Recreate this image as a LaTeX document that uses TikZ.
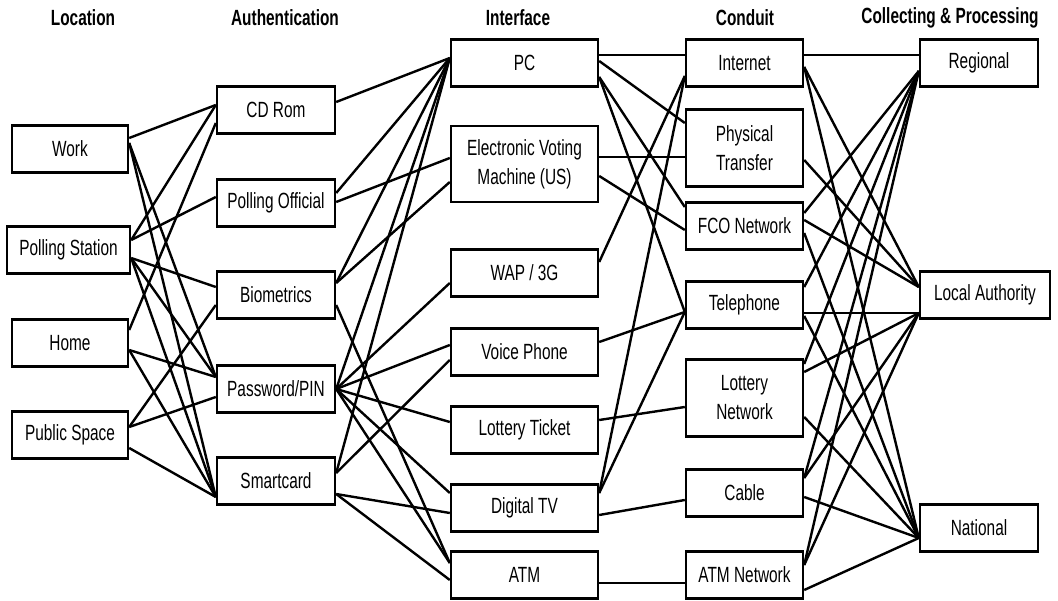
\documentclass[tikz,border=0pt]{standalone}
\usepackage{fontspec}
\setmainfont[FakeStretch=0.7]{Liberation Sans}
\usetikzlibrary{positioning}
\tikzset{
    box/.style={rectangle, draw=black, line width=2.4pt, fill=white, align=center,
        font=\fontsize{22}{29}\selectfont, inner sep=0pt, minimum height=47pt},
    locbox/.style={box, minimum width=116pt},
    authbox/.style={box, minimum width=118pt},
    facebox/.style={box, minimum width=147pt},
    pipebox/.style={box, minimum width=117pt},
    endbox/.style={box, minimum width=118pt},
    head/.style={font=\fontsize{22}{25}\selectfont\bfseries},
    link/.style={line width=2.4pt, black},
}

\begin{document}
\begin{tikzpicture}[x=1pt, y=-1pt]
    \useasboundingbox (0,0) rectangle (1058,601);

    % Intestazioni delle colonne
    \node[head] (h_loc)  at (83,18)  {Location};
    \node[head] (h_auth) at (285,18) {Authentication};
    \node[head] (h_face) at (518,18) {Interface};
    \node[head] (h_pipe) at (745,18) {Conduit};
    \node[head] (h_end)  at (950,18) {Collecting \& Processing};

    % 1. Location
    \node[locbox] (work)    at (70,149) {Work};
    \node[locbox, minimum width=123pt] (station) at (68.5,250) {Polling Station};
    \node[locbox] (home)    at (70,343) {Home};
    \node[locbox] (public)  at (70,435) {Public Space};

    % 2. Authentication
    \node[authbox] (cdrom)    at (276,110) {CD Rom};
    \node[authbox] (official) at (276,203) {Polling Official};
    \node[authbox] (bio)      at (276,295) {Biometrics};
    \node[authbox] (pin)      at (276,389) {Password/PIN};
    \node[authbox] (smart)    at (276,481) {Smartcard};

    % 3. Interface
    \node[facebox] (pc)     at (524.5,63)  {PC};
    \node[facebox, minimum height=76pt] (evm) at (524.5,164) {Electronic Voting\\Machine (US)};
    \node[facebox] (wap)    at (524.5,273) {WAP / 3G};
    \node[facebox] (voice)  at (524.5,352) {Voice Phone};
    \node[facebox] (ticket) at (524.5,430) {Lottery Ticket};
    \node[facebox] (dtv)    at (524.5,508) {Digital TV};
    \node[facebox] (atm)    at (524.5,575) {ATM};

    % 4. Conduit
    \node[pipebox] (internet) at (744.5,63)  {Internet};
    \node[pipebox, minimum height=77pt] (transfer) at (744.5,148) {Physical\\Transfer};
    \node[pipebox] (fco)      at (744.5,226) {FCO Network};
    \node[pipebox] (phone)    at (744.5,305) {Telephone};
    \node[pipebox, minimum height=77pt] (lotnet) at (744.5,398) {Lottery\\Network};
    \node[pipebox] (cable)    at (744.5,493) {Cable};
    \node[pipebox] (atmnet)   at (744.5,575) {ATM Network};

    % 5. Collecting & Processing
    \node[endbox] (regional) at (979,63)  {Regional};
    \node[endbox, minimum width=130pt] (local) at (985,295) {Local Authority};
    \node[endbox] (national) at (979,528) {National};

    % --- Collegamenti Location -> Authentication ---
    \draw[link] ([yshift=11pt]work.east) -- ([yshift=5pt]cdrom.west);
    \draw[link] ([yshift=6pt]work.east) -- ([yshift=12pt]pin.west);
    \draw[link] ([yshift=6pt]work.east) -- ([yshift=-16pt]smart.west);
    \draw[link] ([yshift=10pt]station.east) -- ([yshift=5pt]cdrom.west);
    \draw[link] ([yshift=10pt]station.east) -- ([yshift=6pt]official.west);
    \draw[link] ([yshift=-8pt]station.east) -- ([yshift=8pt]bio.west);
    \draw[link] ([yshift=-8pt]station.east) -- ([yshift=12pt]pin.west);
    \draw[link] ([yshift=-8pt]station.east) -- ([yshift=-16pt]smart.west);
    \draw[link] ([yshift=13pt]home.east) -- ([yshift=-13pt]cdrom.west);
    \draw[link] ([yshift=-7pt]home.east) -- ([yshift=12pt]pin.west);
    \draw[link] ([yshift=-7pt]home.east) -- ([yshift=-16pt]smart.west);
    \draw[link] ([yshift=8pt]public.east) -- ([yshift=-10pt]bio.west);
    \draw[link] ([yshift=8pt]public.east) -- ([yshift=-8pt]pin.west);
    \draw[link] ([yshift=-13pt]public.east) -- ([yshift=-16pt]smart.west);

    % --- Collegamenti Authentication -> Interface ---
    \draw[link] ([yshift=8pt]cdrom.east) -- ([yshift=5pt]pc.west);
    \draw[link] ([yshift=10pt]official.east) -- ([yshift=5pt]pc.west);
    \draw[link] ([yshift=1pt]official.east) -- ([yshift=6pt]evm.west);
    \draw[link] ([yshift=12pt]bio.east) -- ([yshift=5pt]pc.west);
    \draw[link] ([yshift=12pt]bio.east) -- ([yshift=-18pt]evm.west);
    \draw[link] ([yshift=-10pt]bio.east) -- ([yshift=12pt]atm.west);
    \draw[link] (pin.east) -- ([yshift=5pt]pc.west);
    \draw[link] (pin.east) -- ([yshift=-10pt]wap.west);
    \draw[link] (pin.east) -- ([yshift=7pt]voice.west);
    \draw[link] (pin.east) -- ([yshift=8pt]ticket.west);
    \draw[link] (pin.east) -- ([yshift=15pt]dtv.west);
    \draw[link] (pin.east) -- ([yshift=12pt]atm.west);
    \draw[link] ([yshift=8pt]smart.east) -- ([yshift=5pt]pc.west);
    \draw[link] ([yshift=8pt]smart.east) -- ([yshift=-8pt]voice.west);
    \draw[link] ([yshift=-13pt]smart.east) -- ([yshift=-5pt]dtv.west);
    \draw[link] ([yshift=-13pt]smart.east) -- ([yshift=-5pt]atm.west);

    % --- Collegamenti Interface -> Conduit ---
    \draw[link] ([yshift=8pt]pc.east) -- ([yshift=8pt]internet.west);
    \draw[link] ([yshift=2pt]pc.east) -- ([yshift=25pt]transfer.west);
    \draw[link] ([yshift=-14pt]pc.east) -- ([yshift=19pt]fco.west);
    \draw[link] ([yshift=-14pt]pc.east) -- ([yshift=-7pt]phone.west);
    \draw[link] ([yshift=7pt]evm.east) -- ([yshift=-9pt]transfer.west);
    \draw[link] ([yshift=-12pt]evm.east) -- ([yshift=-4pt]fco.west);
    \draw[link] ([yshift=11pt]wap.east) -- ([yshift=-13pt]internet.west);
    \draw[link] ([yshift=10pt]voice.east) -- ([yshift=-7pt]phone.west);
    \draw[link] ([yshift=10pt]ticket.east) -- ([yshift=-9pt]lotnet.west);
    \draw[link] ([yshift=15pt]dtv.east) -- ([yshift=-13pt]internet.west);
    \draw[link] ([yshift=15pt]dtv.east) -- ([yshift=-7pt]phone.west);
    \draw[link] ([yshift=-7pt]dtv.east) -- ([yshift=-7pt]cable.west);
    \draw[link] ([yshift=-8pt]atm.east) -- ([yshift=-8pt]atmnet.west);

    % --- Collegamenti Conduit -> Collecting & Processing ---
    \draw[link] ([yshift=8pt]internet.east) -- ([yshift=8pt]regional.west);
    \draw[link] ([yshift=-4pt]internet.east) -- ([yshift=8pt]local.west);
    \draw[link] ([yshift=-4pt]internet.east) -- ([yshift=-10pt]national.west);
    \draw[link] ([yshift=-12pt]transfer.east) -- ([yshift=8pt]local.west);
    \draw[link] ([yshift=13pt]fco.east) -- ([yshift=-8pt]regional.west);
    \draw[link] ([yshift=6pt]fco.east) -- ([yshift=8pt]local.west);
    \draw[link] ([yshift=-7pt]fco.east) -- ([yshift=-10pt]national.west);
    \draw[link] ([yshift=18pt]phone.east) -- ([yshift=-8pt]regional.west);
    \draw[link] ([yshift=-8pt]phone.east) -- ([yshift=-18pt]local.west);
    \draw[link] ([yshift=-11pt]phone.east) -- ([yshift=-10pt]national.west);
    \draw[link] ([yshift=34pt]lotnet.east) -- ([yshift=-8pt]regional.west);
    \draw[link] ([yshift=26pt]lotnet.east) -- ([yshift=-18pt]local.west);
    \draw[link] ([yshift=-19pt]lotnet.east) -- ([yshift=-10pt]national.west);
    \draw[link] ([yshift=15pt]cable.east) -- ([yshift=-8pt]regional.west);
    \draw[link] ([yshift=15pt]cable.east) -- ([yshift=-18pt]local.west);
    \draw[link] ([yshift=-4pt]cable.east) -- ([yshift=-10pt]national.west);
    \draw[link] ([yshift=10pt]atmnet.east) -- ([yshift=-8pt]regional.west);
    \draw[link] ([yshift=10pt]atmnet.east) -- ([yshift=-18pt]local.west);
    \draw[link] ([yshift=-15pt]atmnet.east) -- ([yshift=-10pt]national.west);
\end{tikzpicture}
\end{document}
